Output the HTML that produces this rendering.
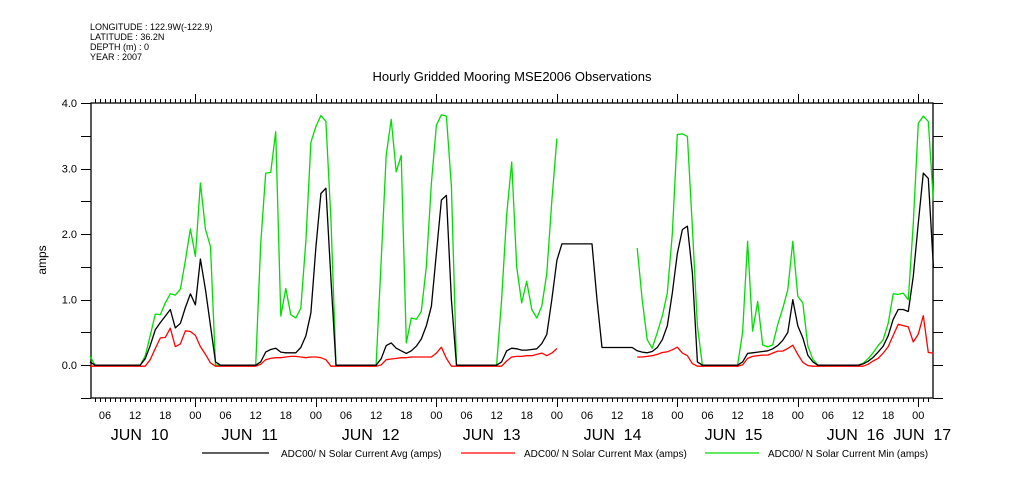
<!DOCTYPE html>
<html><head><meta charset="utf-8"><style>
body{margin:0;background:#fff;}
svg{display:block;font-family:"Liberation Sans",sans-serif;}
</style></head><body>
<svg id="chart" width="1009" height="504" viewBox="0 0 1009 504" xmlns="http://www.w3.org/2000/svg">
<rect width="1009" height="504" fill="#fff"/>
<g font-size="9" fill="#000">
<text x="90" y="30">LONGITUDE : 122.9W(-122.9)</text>
<text x="90" y="40">LATITUDE : 36.2N</text>
<text x="90" y="50">DEPTH (m) : 0</text>
<text x="90" y="60">YEAR : 2007</text>
</g>
<text x="512" y="81" font-size="13" text-anchor="middle">Hourly Gridded Mooring MSE2006 Observations</text>
<text transform="translate(46,260) rotate(-90)" font-size="12" text-anchor="middle">amps</text>
<g id="axes"></g>
<g id="series"></g>
<g id="legend" font-size="10">
<g><line x1="202" y1="453" x2="269" y2="453" stroke="#000" stroke-width="1.3"/><text x="281" y="457">ADC00/ N Solar Current Avg (amps)</text></g>
<g><line x1="461" y1="453" x2="515" y2="453" stroke="#f00" stroke-width="1.3"/><text x="524" y="457">ADC00/ N Solar Current Max (amps)</text></g>
<g><line x1="705" y1="453" x2="759" y2="453" stroke="#0d0" stroke-width="1.3"/><text x="768" y="457">ADC00/ N Solar Current Min (amps)</text></g>
</g>
</svg>
<script>
// hours since JUN 10 00:00, first sample at startHour
const startHour = 3;
const avgValues = [
0.05, 0,0,0,0,0,0,0,0,0,0,
0.1,0.3,0.54,0.65,0.75,0.85,0.57,0.64,0.88,1.09,0.92,1.62,1.15,0.6,0.05,
0,0,0,0,0,0,0,
0,0.05,0.2,0.24,0.26,0.2,0.19,0.19,0.19,0.27,0.45,0.8,1.8,2.62,2.7,1.3,0,
0,0,0,0,0,0,0,
0,0.1,0.3,0.34,0.26,0.22,0.18,0.22,0.29,0.4,0.6,0.9,1.71,2.52,2.59,1.0,0,
0,0,0,0,0,0,0,
0,0.05,0.22,0.26,0.25,0.23,0.23,0.24,0.25,0.33,0.47,1.0,1.6,
1.85,1.85,1.85,1.85,1.85,1.85,1.85,1.0,
0.27,0.27,0.27,0.27,0.27,0.27,0.27,
0.22,0.2,0.19,0.21,0.27,0.39,0.6,1.1,1.7,2.07,2.12,1.4,0.05,
0,0,0,0,0,0,0,
0,0.05,0.18,0.19,0.2,0.21,0.22,0.25,0.3,0.38,0.5,1.0,0.6,0.42,0.15,0.05,0,
0,0,0,0,0,0,0,
0,0.02,0.06,0.12,0.2,0.29,0.45,0.7,0.85,0.85,0.82,1.36,2.17,2.93,2.85,1.5
];
const maxValues = [
0,0,0,0,0,0,0,0,0,0,0,0,
0.1,0.27,0.43,0.44,0.58,0.3,0.34,0.54,0.53,0.47,0.3,0.18,0.05,
0,0,0,0,0,0,0,0,0,
0.03,0.1,0.12,0.13,0.13,0.14,0.15,0.15,0.14,0.13,0.14,0.14,0.13,0.1,
0,0,0,0,0,0,0,0,0,0,
0.02,0.1,0.11,0.12,0.13,0.13,0.14,0.14,0.14,0.14,0.14,0.2,0.29,0.12,
0,0,0,0,0,0,0,0,0,0,0,
0.08,0.14,0.15,0.15,0.16,0.16,0.18,0.2,0.16,0.2,0.27,
null,null,null,null,null,null,null,null,null,null,null,null,null,null,null,
0.14,0.14,0.15,0.16,0.18,0.21,0.22,0.25,0.29,0.2,0.16,0.04,
0,0,0,0,0,0,0,0,0,
0.02,0.12,0.15,0.16,0.17,0.17,0.2,0.23,0.23,0.27,0.32,0.18,0.06,0.01,
0,0,0,0,0,0,0,0,0,0,0,
0.03,0.08,0.12,0.2,0.3,0.47,0.64,0.62,0.6,0.37,0.49,0.77,0.21,0.2
];
const minValues = [
0.14, 0,0,0,0,0,0,0,0,0,0,
0.14,0.45,0.78,0.77,0.95,1.09,1.07,1.16,1.6,2.08,1.66,2.78,2.07,1.81,0,
0,0,0,0,0,0,0,0,
1.85,2.93,2.94,3.56,0.75,1.17,0.77,0.72,0.87,1.9,3.4,3.64,3.81,3.72,2.2,0,
0,0,0,0,0,0,0,0,
1.6,3.2,3.75,2.95,3.2,0.34,0.72,0.7,0.82,1.5,2.78,3.66,3.82,3.8,2.73,0,
0,0,0,0,0,0,0,0,
1.0,2.3,3.1,1.5,0.95,1.28,0.85,0.72,0.9,1.4,2.5,3.46,
null,null,null,null,null,null,null,null,null,null,null,null,null,null,null,
1.79,1.0,0.39,0.26,0.5,0.75,1.1,2.0,3.52,3.53,3.49,2.1,0.6,0,
0,0,0,0,0,0,0,
0.5,1.89,0.52,0.97,0.31,0.28,0.31,0.62,0.87,1.15,1.89,1.05,0.95,0.29,0.09,0,
0,0,0,0,0,0,0,0,
0.03,0.1,0.19,0.3,0.39,0.64,1.09,1.08,1.1,1.0,2.17,3.69,3.8,3.72,2.5
];
const yTickValues = [0,1,2,3,4];
const yTickLabels = ["0.0","1.0","2.0","3.0","4.0"];
const hourLabels = ["06","12","18","00"];
const dayLabels = ["JUN 10","JUN 11","JUN 12","JUN 13","JUN 14","JUN 15","JUN 16","JUN 17"];
const dayLabelHours = [12.9,34.8,58.9,83,107.1,131.2,155.5,168.8];

const L=91,R=933,T=103,B=398, X0=3.2, PXH=5.02, YMIN=-0.5, YMAX=4.0;
const xs = h => L + (h - X0)*PXH;
const ys = v => B - (v - YMIN)/(YMAX-YMIN)*(B-T);
const NS="http://www.w3.org/2000/svg";
function mk(tag, attrs, parent){const e=document.createElementNS(NS,tag);for(const k in attrs)e.setAttribute(k,attrs[k]);parent.appendChild(e);return e;}

const axes=document.getElementById('axes');
const frame=mk('rect',{x:L,y:T,width:R-L,height:B-T,fill:'none',stroke:'#000','stroke-width':1.3},axes);


// hour ticks
let d='';
for(let h=4;h<=170;h++){const x=Math.round(xs(h))+0.5;const len=(h%24===0)?9:4;d+=`M${x} ${T}V${T-len}M${x} ${B}V${B+len}`;}
const xt=mk('path',{d:d,stroke:'#000','stroke-width':1,fill:'none'},axes);


// y ticks
d='';
for(let v=-0.5;v<=4.0001;v+=0.5){const y=Math.round(ys(v))+0.5;d+=`M${L} ${y}H${L-10}M${R} ${y}H${R+10}`;}
const yt=mk('path',{d:d,stroke:'#000','stroke-width':1,fill:'none'},axes);


yTickValues.forEach((v,i)=>{const t=mk('text',{x:77,y:ys(v)+4,'font-size':11,'text-anchor':'end'},axes);t.textContent=yTickLabels[i];

});
for(let h=6;h<=168;h+=6){const t=mk('text',{x:xs(h),y:419,'font-size':11,'text-anchor':'middle'},axes);t.textContent=hourLabels[(h/6-1)%4];

}
dayLabels.forEach((s,i)=>{const t=mk('text',{x:xs(dayLabelHours[i]),y:440,'font-size':16,'text-anchor':'middle'},axes);t.textContent=s.replace(' ','\u00a0\u00a0');

});

const sg=document.getElementById('series');
function drawSeries(vals,color,name,dy){
  let p='',pen=false;
  vals.forEach((v,i)=>{if(v===null){pen=false;return;}const x=xs(startHour+i).toFixed(1),y=(ys(v)+dy).toFixed(1);p+=(pen?'L':'M')+x+' '+y;pen=true;});
  const e=mk('path',{d:p,fill:'none',stroke:color,'stroke-width':1.3,'stroke-linejoin':'round'},sg);
  
  
}
drawSeries(minValues,'#0d0','series-min-line',0);
drawSeries(maxValues,'#f00','series-max-line',1);
drawSeries(avgValues,'#000','series-avg-line',0);
</script>
</body></html>
